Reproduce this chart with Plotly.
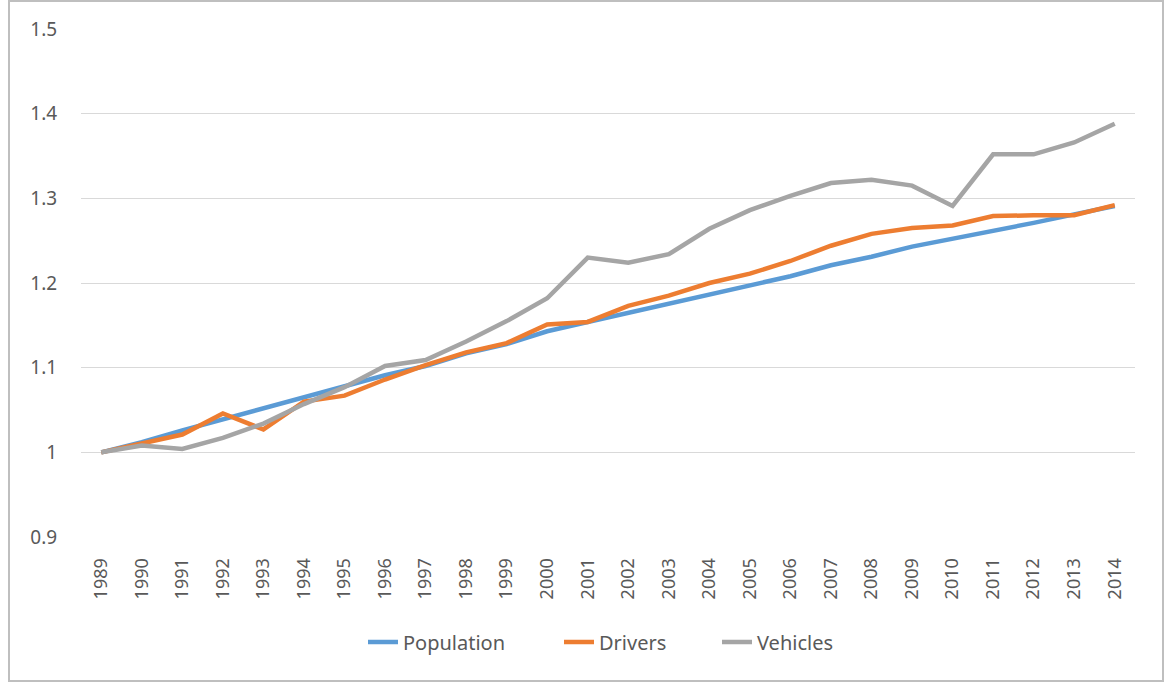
import plotly.graph_objects as go

years = [str(y) for y in range(1989, 2015)]

population = [1.000, 1.012, 1.026, 1.039, 1.052, 1.066, 1.079, 1.091, 1.102, 1.117,
              1.128, 1.143, 1.154, 1.165, 1.175, 1.186, 1.197, 1.208, 1.221, 1.231,
              1.243, 1.252, 1.262, 1.271, 1.281, 1.291]
drivers = [1.000, 1.010, 1.021, 1.046, 1.027, 1.060, 1.067, 1.086, 1.103, 1.118,
           1.129, 1.151, 1.154, 1.173, 1.185, 1.200, 1.211, 1.226, 1.244, 1.258,
           1.265, 1.268, 1.279, 1.280, 1.280, 1.292]
vehicles = [1.000, 1.008, 1.004, 1.017, 1.034, 1.057, 1.077, 1.102, 1.109, 1.131,
            1.155, 1.182, 1.230, 1.224, 1.234, 1.264, 1.286, 1.303, 1.318, 1.322,
            1.315, 1.291, 1.352, 1.352, 1.366, 1.388]

series_names = ["Population", "Drivers", "Vehicles"]
series_values = [population, drivers, vehicles]
series_colors = ["#5B9BD5", "#ED7D31", "#A5A5A5"]

ytick_vals = [0.9, 1.0, 1.1, 1.2, 1.3, 1.4, 1.5]
ytick_text = ["0.9", "1", "1.1", "1.2", "1.3", "1.4", "1.5"]

font_family = "Noto Sans"
text_color = "#595959"

# plot area: 81..1135 px wide, 29..537 px tall
PL, PW, PT, PH = 81, 1054, 29, 508
legend_text_starts = [403, 599, 757]
legend_names = ["legend", "legend2", "legend3"]

fig = go.Figure()
for name, vals, color, lg in zip(series_names, series_values, series_colors, legend_names):
    fig.add_trace(go.Scatter(x=years, y=vals, name=name, mode="lines",
                             line=dict(color=color, width=4.5), legend=lg))

legend_y = (PT + PH - 642) / PH
legends = {}
for lg, ts in zip(legend_names, legend_text_starts):
    legends[lg] = dict(orientation="h", x=(ts - 40 - PL) / PW, xanchor="left",
                       y=legend_y, yanchor="middle", borderwidth=0,
                       bgcolor="rgba(0,0,0,0)",
                       font=dict(family=font_family, size=20, color=text_color))

fig.update_layout(
    width=1166, height=684,
    margin=dict(l=PL, r=1166 - PL - PW, t=PT, b=684 - PT - PH),
    paper_bgcolor="white", plot_bgcolor="white",
    font=dict(family=font_family, size=18, color=text_color),
    showlegend=True,
    xaxis=dict(type="category", range=[-0.5, len(years) - 0.5], tickangle=-90,
               showgrid=False, showline=False,
               ticks="outside", ticklen=13, tickcolor="rgba(0,0,0,0)",
               tickfont=dict(size=18, color=text_color)),
    yaxis=dict(range=[0.9, 1.5], tickvals=ytick_vals, ticktext=ytick_text,
               showgrid=True, gridcolor="#D9D9D9", gridwidth=1, zeroline=False,
               showline=False, ticks="outside", ticklen=19, tickcolor="rgba(0,0,0,0)",
               tickfont=dict(size=19, color=text_color)),
    shapes=[dict(type="rect", xref="paper", yref="paper",
                 x0=(9 - PL) / PW, x1=(1163 - PL) / PW,
                 y0=(PT + PH - 681) / PH, y1=(PT + PH - 1) / PH,
                 line=dict(color="#BFBFBF", width=2), fillcolor="rgba(0,0,0,0)")],
    **legends,
)

fig.write_html("out.html", config={"displayModeBar": False},
               post_script="document.body.style.margin='0';")
